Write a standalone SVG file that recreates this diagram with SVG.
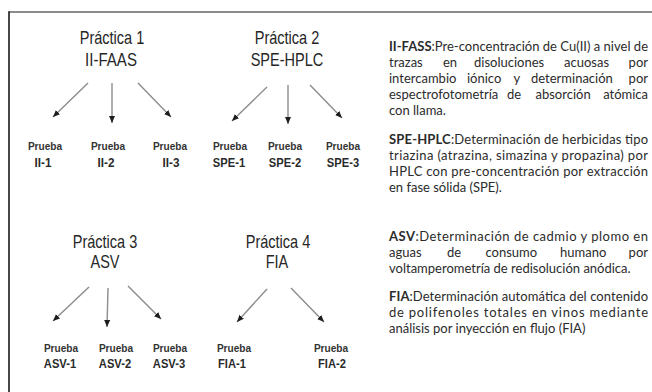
<svg xmlns="http://www.w3.org/2000/svg" width="652" height="392" viewBox="0 0 652 392">
  <defs>
    <marker id="head" markerUnits="userSpaceOnUse" markerWidth="8" markerHeight="8" viewBox="0 0 8 8" refX="7" refY="4" orient="auto">
      <path d="M0,1 L7,4 L0,7 Z" fill="#1e1e1e"/>
    </marker>
    <style>
      .title { font-family: "Liberation Sans", Arial, sans-serif; font-size: 17.5px; fill: #262626; text-anchor: middle; }
      .pr { font-family: "Liberation Sans", Arial, sans-serif; font-size: 11px; font-weight: bold; fill: #333; text-anchor: middle; }
      .code { font-family: "Liberation Sans", Arial, sans-serif; font-size: 13px; font-weight: bold; fill: #2a2a2a; text-anchor: middle; }
      .link { stroke: #8c8c8c; stroke-width: 1.4; fill: none; marker-end: url(#head); }
      .desc { font-family: Lato, "Open Sans", sans-serif; font-size: 13px; fill: #2b2b2b; }
      .b { font-weight: bold; }
      .end { text-anchor: end; }
    </style>
  </defs>

  <rect width="652" height="392" fill="#ffffff"/>

  <!-- frame -->
  <g id="frame">
    <line x1="9" y1="12" x2="652" y2="12" stroke="#666" stroke-width="1.5"/>
    <line x1="9" y1="11.3" x2="9" y2="392" stroke="#1a1a1a" stroke-width="1.6"/>
  </g>

  <!-- practice headers -->
  <g id="practica1">
    <text class="title" transform="translate(112,44.3) scale(0.83,1)">Práctica 1</text>
    <text class="title" transform="translate(111,66) scale(0.86,1)">II-FAAS</text>
  </g>
  <g id="practica2">
    <text class="title" transform="translate(287,44.3) scale(0.83,1)">Práctica 2</text>
    <text class="title" transform="translate(287,66) scale(0.83,1)">SPE-HPLC</text>
  </g>
  <g id="practica3">
    <text class="title" transform="translate(105,247.7) scale(0.83,1)">Práctica 3</text>
    <text class="title" transform="translate(105,268.3) scale(0.83,1)">ASV</text>
  </g>
  <g id="practica4">
    <text class="title" transform="translate(278,247.7) scale(0.83,1)">Práctica 4</text>
    <text class="title" transform="translate(277,268.3) scale(0.83,1)">FIA</text>
  </g>

  <!-- tests -->
  <g id="prueba-II-1">
    <text class="pr" transform="translate(45,149.5) scale(0.92,1)">Prueba</text>
    <text class="code" transform="translate(43,166.5) scale(0.9,1)">II-1</text>
  </g>
  <g id="prueba-II-2">
    <text class="pr" transform="translate(108,149.5) scale(0.92,1)">Prueba</text>
    <text class="code" transform="translate(106,166.5) scale(0.9,1)">II-2</text>
  </g>
  <g id="prueba-II-3">
    <text class="pr" transform="translate(170,149.5) scale(0.92,1)">Prueba</text>
    <text class="code" transform="translate(171,166.5) scale(0.9,1)">II-3</text>
  </g>
  <g id="prueba-SPE-1">
    <text class="pr" transform="translate(230,149.5) scale(0.92,1)">Prueba</text>
    <text class="code" transform="translate(229,166.5) scale(0.86,1)">SPE-1</text>
  </g>
  <g id="prueba-SPE-2">
    <text class="pr" transform="translate(285,149.5) scale(0.92,1)">Prueba</text>
    <text class="code" transform="translate(285,166.5) scale(0.86,1)">SPE-2</text>
  </g>
  <g id="prueba-SPE-3">
    <text class="pr" transform="translate(343,149.5) scale(0.92,1)">Prueba</text>
    <text class="code" transform="translate(343,166.5) scale(0.86,1)">SPE-3</text>
  </g>
  <g id="prueba-ASV-1">
    <text class="pr" transform="translate(61,352) scale(0.92,1)">Prueba</text>
    <text class="code" transform="translate(60,368) scale(0.86,1)">ASV-1</text>
  </g>
  <g id="prueba-ASV-2">
    <text class="pr" transform="translate(116,352) scale(0.92,1)">Prueba</text>
    <text class="code" transform="translate(115,368) scale(0.86,1)">ASV-2</text>
  </g>
  <g id="prueba-ASV-3">
    <text class="pr" transform="translate(170,352) scale(0.92,1)">Prueba</text>
    <text class="code" transform="translate(169,368) scale(0.86,1)">ASV-3</text>
  </g>
  <g id="prueba-FIA-1">
    <text class="pr" transform="translate(234,352) scale(0.92,1)">Prueba</text>
    <text class="code" transform="translate(232,368) scale(0.86,1)">FIA-1</text>
  </g>
  <g id="prueba-FIA-2">
    <text class="pr" transform="translate(331,352) scale(0.92,1)">Prueba</text>
    <text class="code" transform="translate(332,368) scale(0.86,1)">FIA-2</text>
  </g>

  <!-- connectors -->
  <g id="connectors">
    <line class="link" x1="88" y1="83" x2="53" y2="117"/>
    <line class="link" x1="112" y1="83" x2="112" y2="123"/>
    <line class="link" x1="138" y1="83" x2="171" y2="117"/>
    <line class="link" x1="267" y1="87" x2="232" y2="121"/>
    <line class="link" x1="288" y1="85" x2="288" y2="124"/>
    <line class="link" x1="310" y1="85" x2="342" y2="118"/>
    <line class="link" x1="89" y1="287" x2="53" y2="321"/>
    <line class="link" x1="108" y1="288" x2="107" y2="327"/>
    <line class="link" x1="128" y1="286" x2="161" y2="319"/>
    <line class="link" x1="267" y1="289" x2="237" y2="322"/>
    <line class="link" x1="291" y1="288" x2="324" y2="322"/>
  </g>

  <!-- descriptions (justified lines set word by word) -->
  <g id="desc-II-FASS" class="desc">
    <text x="389" y="51" textLength="259" lengthAdjust="spacing"><tspan class="b">II-FASS</tspan>:Pre-concentración de Cu(II) a nivel de</text>
    <text x="389" y="67">trazas</text>
    <text x="443" y="67">en</text>
    <text x="474" y="67">disoluciones</text>
    <text x="564" y="67">acuosas</text>
    <text x="648" y="67" class="end">por</text>
    <text x="389" y="83">intercambio</text>
    <text x="467" y="83">iónico</text>
    <text x="513.5" y="83">y</text>
    <text x="531" y="83">determinación</text>
    <text x="648" y="83" class="end">por</text>
    <text x="389" y="99">espectrofotometría</text>
    <text x="507" y="99">de</text>
    <text x="535.5" y="99">absorción</text>
    <text x="648" y="99" class="end">atómica</text>
    <text x="389" y="115">con llama.</text>
  </g>
  <g id="desc-SPE-HPLC" class="desc">
    <text x="389" y="144" textLength="259" lengthAdjust="spacing"><tspan class="b">SPE-HPLC</tspan>:Determinación de herbicidas tipo</text>
    <text x="389" y="160" textLength="259" lengthAdjust="spacing">triazina (atrazina, simazina y propazina) por</text>
    <text x="389" y="176" textLength="259" lengthAdjust="spacing">HPLC con pre-concentración por extracción</text>
    <text x="389" y="192">en fase sólida (SPE).</text>
  </g>
  <g id="desc-ASV" class="desc">
    <text x="389" y="241" textLength="259" lengthAdjust="spacing"><tspan class="b">ASV</tspan>:Determinación de cadmio y plomo en</text>
    <text x="389" y="257">aguas</text>
    <text x="447" y="257">de</text>
    <text x="485.5" y="257">consumo</text>
    <text x="560" y="257">humano</text>
    <text x="648" y="257" class="end">por</text>
    <text x="389" y="273">voltamperometría de redisolución anódica.</text>
  </g>
  <g id="desc-FIA" class="desc">
    <text x="389" y="301" textLength="259" lengthAdjust="spacing"><tspan class="b">FIA</tspan>:Determinación automática del contenido</text>
    <text x="389" y="317" textLength="259" lengthAdjust="spacing">de polifenoles totales en vinos mediante</text>
    <text x="389" y="333">análisis por inyección en flujo (FIA)</text>
  </g>
</svg>
